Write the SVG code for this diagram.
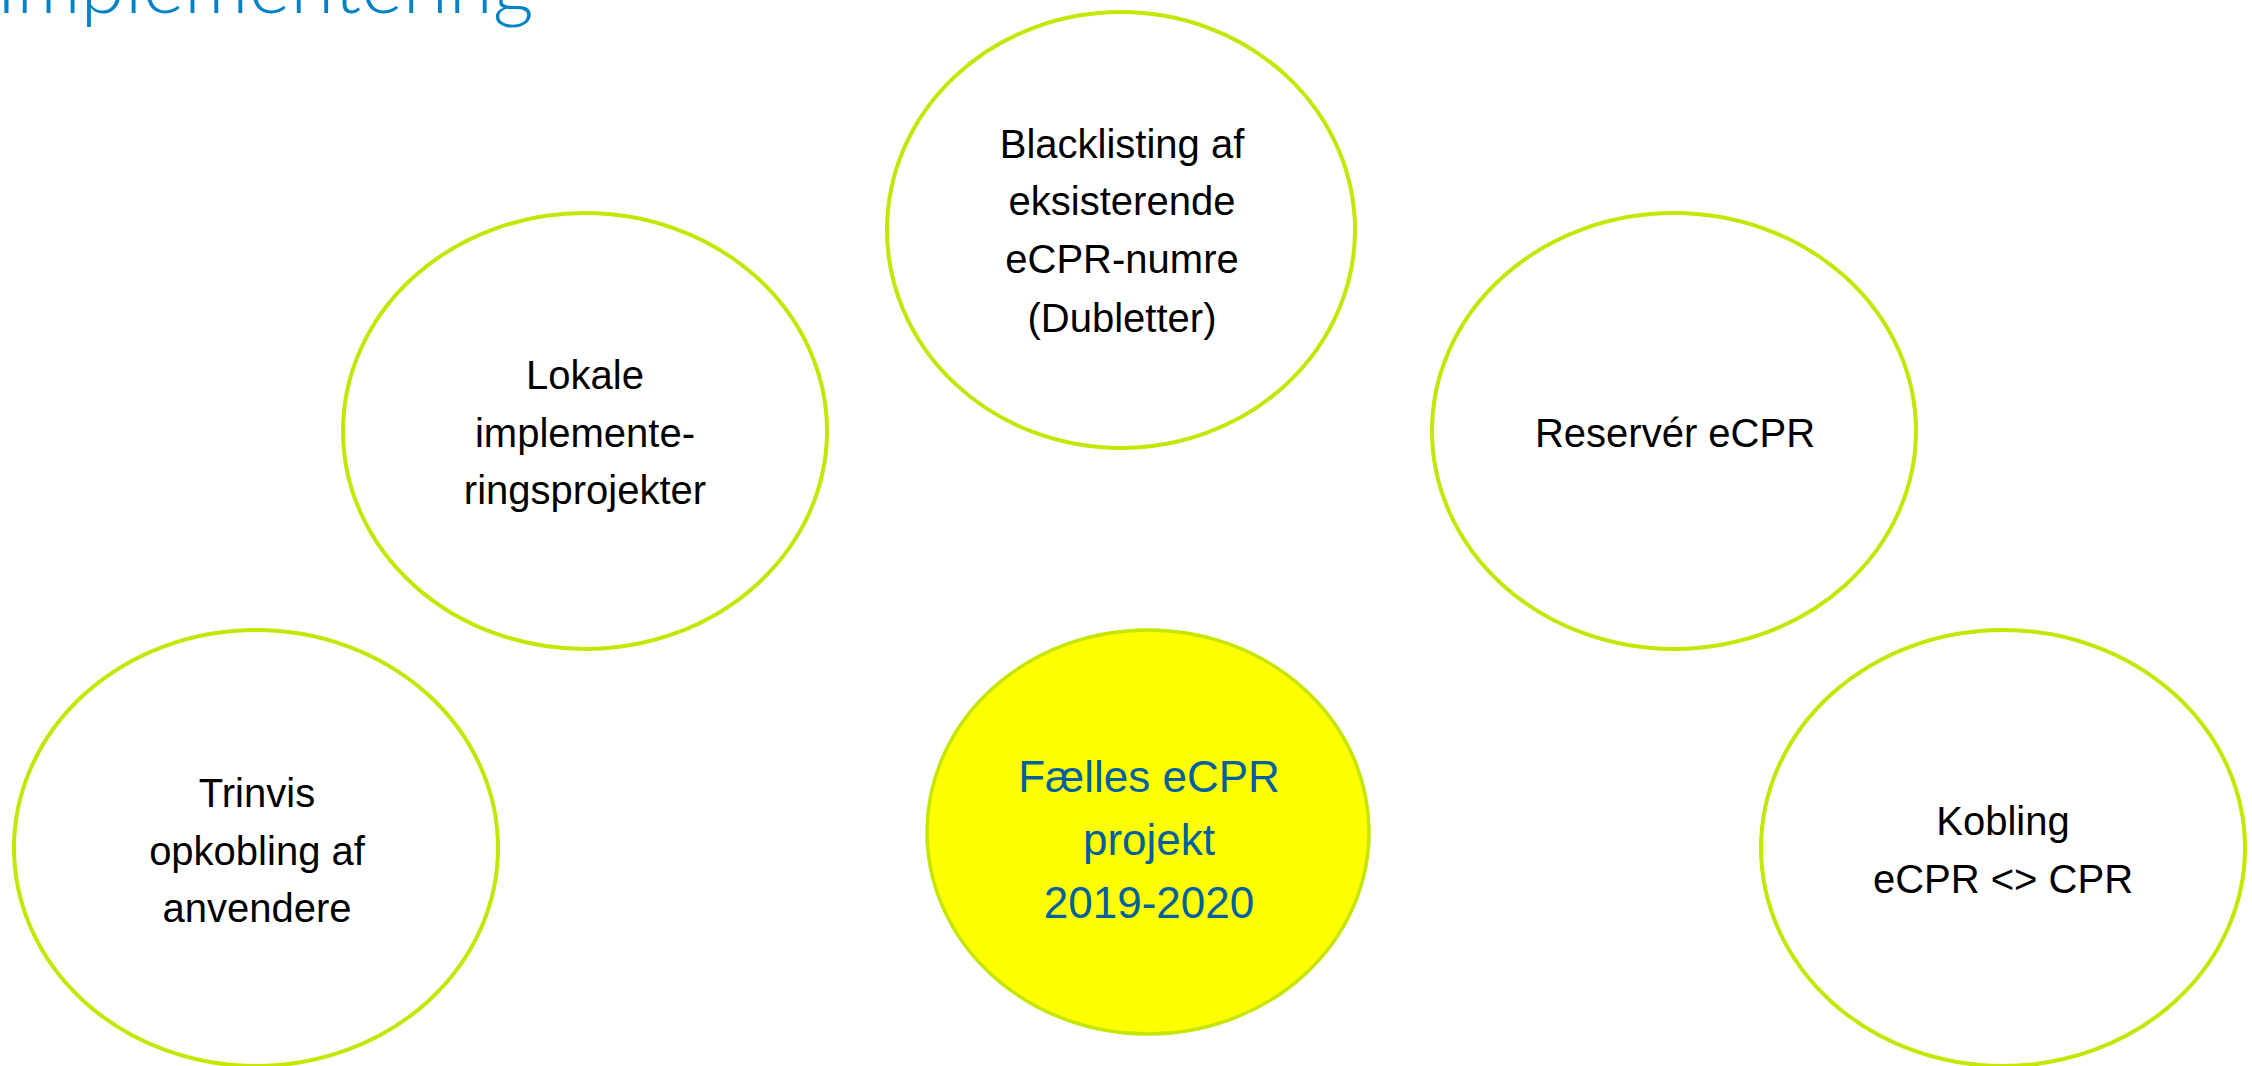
<svg xmlns="http://www.w3.org/2000/svg" width="2252" height="1066" viewBox="0 0 2252 1066">
<style>
  .node { fill: #FFFFFF; stroke: #C4E600; stroke-width: 4; }
  .hub { fill: #FFFF00; stroke: #C4E600; stroke-width: 3.5; }
  .lbl { font-family: "Liberation Sans", Arial, sans-serif; font-size: 40px; fill: #000000; text-anchor: middle; }
  .hublbl { font-family: "Liberation Sans", Arial, sans-serif; font-size: 44px; fill: #005F9E; text-anchor: middle; }
  .title { font-family: "Lato", "Open Sans", "Liberation Sans", sans-serif; font-weight: 300; font-size: 80px; fill: #0082C8; }
</style>
<rect width="2252" height="1066" fill="#FFFFFF"/>
<text class="title" x="-4" y="13">Implementering</text>
<g id="connectors"></g>
<g id="node-blacklisting">
  <ellipse class="node" cx="1121" cy="230" rx="234" ry="218"/>
  <text class="lbl" x="1122" y="158">Blacklisting af</text>
  <text class="lbl" x="1122" y="215">eksisterende</text>
  <text class="lbl" x="1122" y="273">eCPR-numre</text>
  <text class="lbl" x="1122" y="332">(Dubletter)</text>
</g>
<g id="node-lokale">
  <ellipse class="node" cx="585" cy="431" rx="242" ry="218"/>
  <text class="lbl" x="585" y="389">Lokale</text>
  <text class="lbl" x="585" y="447">implemente-</text>
  <text class="lbl" x="585" y="504">ringsprojekter</text>
</g>
<g id="node-reserver">
  <ellipse class="node" cx="1674" cy="431" rx="242" ry="218"/>
  <text class="lbl" x="1675" y="447">Reservér eCPR</text>
</g>
<g id="node-trinvis">
  <ellipse class="node" cx="256" cy="848" rx="242" ry="218"/>
  <text class="lbl" x="257" y="807">Trinvis</text>
  <text class="lbl" x="257" y="865">opkobling af</text>
  <text class="lbl" x="257" y="922">anvendere</text>
</g>
<g id="node-faelles">
  <ellipse class="hub" cx="1148" cy="832" rx="221" ry="202"/>
  <text class="hublbl" x="1149" y="792">Fælles eCPR</text>
  <text class="hublbl" x="1149" y="855">projekt</text>
  <text class="hublbl" x="1149" y="918">2019-2020</text>
</g>
<g id="node-kobling">
  <ellipse class="node" cx="2003" cy="848" rx="242" ry="218"/>
  <text class="lbl" x="2003" y="835">Kobling</text>
  <text class="lbl" x="2003" y="893">eCPR &lt;&gt; CPR</text>
</g>
</svg>
